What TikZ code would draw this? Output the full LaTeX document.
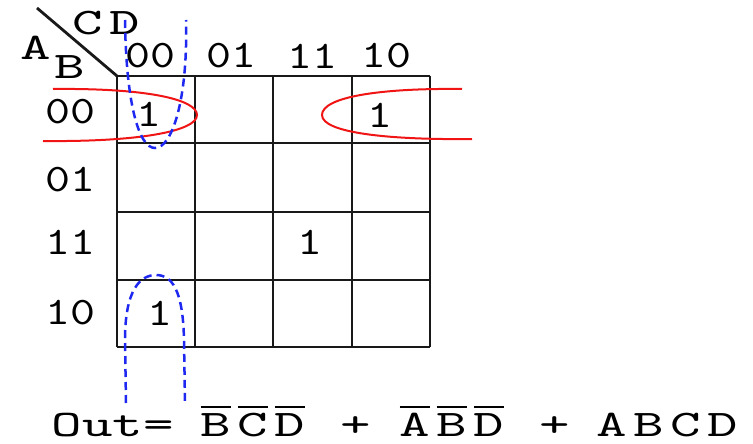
\documentclass[tikz,border=0pt]{standalone}
\usepackage{fontspec}
\usepackage{tikz}
\usetikzlibrary{positioning}
\newfontfamily\digitfont{lmmono10-regular.otf}[FakeStretch=1.22]
\newfontfamily\letterfont{lmmono10-regular.otf}[FakeStretch=1.55]
\definecolor{kred}{RGB}{240,20,20}
\definecolor{kblue}{RGB}{30,40,240}
\newcommand\lt[1]{\makebox[37pt]{#1}}
\newcommand\ovl[1]{\vbox{\hrule height 2pt\kern 5pt\hbox{#1}}}
\tikzset{
  gridline/.style={line width=2.8pt, draw=black!90},
  digit/.style={font=\digitfont\fontsize{39}{44}\selectfont, inner sep=0pt},
  letter/.style={font=\letterfont\fontsize{37.5}{42}\selectfont, inner sep=0pt},
  redloop/.style={draw=kred, line width=2pt},
  blueloop/.style={draw=kblue, line width=2.5pt, dash pattern=on 8pt off 5pt}
}

\begin{document}
\begin{tikzpicture}[x=1pt, y=-1pt]
    \useasboundingbox (0,0) rectangle (753,444);
    % grid of the map
    \foreach \gx in {117,195,273,352,430}
        \draw[gridline] (\gx,76) -- (\gx,347);
    \foreach \gy in {76,143,212,280,347}
        \draw[gridline] (117,\gy) -- (430,\gy);
    \coordinate (corner) at (117,76);
    \coordinate (diagtop) at (37,8);
    \draw[gridline] (diagtop) -- (corner);

    % variable names
    \node[letter] (cd) at (106,23) {\lt{C}\lt{D}};
    \node[letter] (va) at (36,48) {A};
    \node[letter] (vb) at (70,67) {B};

    % column and row headers
    \node[digit] (c00) at (150,56) {00};
    \node[digit] (c01) at (231,56) {01};
    \node[digit] (c11) at (312,56) {11};
    \node[digit] (c10) at (386,56) {10};
    \node[digit] (r00) at (70,112) {00};
    \node[digit] (r01) at (70,180) {01};
    \node[digit] (r11) at (70,242) {11};
    \node[digit] (r10) at (70,313) {10};

    % minterms
    \node[digit] (m0000) at (149,114) {1};
    \node[digit] (m0010) at (380,115) {1};
    \node[digit] (m1111) at (310,242) {1};
    \node[digit] (m1000) at (160,313) {1};

    % groups
    \draw[redloop] (53,89) .. controls (150,88) and (197,100) .. (197,115)
        .. controls (197,131) and (140,142) .. (43,141);
    \draw[redloop] (462,89) .. controls (380,88) and (322,97) .. (322,115)
        .. controls (322,133) and (390,140) .. (472,139);
    \draw[blueloop] (125,20) .. controls (126,100) and (138,148) .. (155,148)
        .. controls (172,148) and (188,100) .. (186,20);
    \draw[blueloop] (126,403) -- (125,340) .. controls (125,290) and (140,275) .. (156,275)
        .. controls (172,275) and (183,290) .. (184,340) -- (185,403);

    % result
    \node[letter, anchor=base] (out) at (113,436) {Out=};
    \node[letter, anchor=base] (t1) at (253,436) {\lt{\ovl{B}}\lt{\ovl{C}}\lt{\ovl{D}}};
    \node[letter, anchor=base] (p1) at (356,436) {+};
    \node[letter, anchor=base] (t2) at (452,436) {\lt{\ovl{A}}\lt{\ovl{B}}\lt{\ovl{D}}};
    \node[letter, anchor=base] (p2) at (555,436) {+};
    \node[letter, anchor=base] (t3) at (667,436) {\lt{A}\lt{B}\lt{C}\lt{D}};
\end{tikzpicture}
\end{document}
